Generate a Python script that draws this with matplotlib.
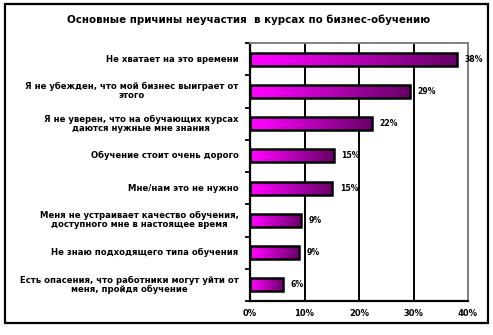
import numpy as np
import matplotlib
matplotlib.use("Agg")
import matplotlib.pyplot as plt
from matplotlib.colors import LinearSegmentedColormap
from matplotlib.patches import Rectangle
from matplotlib.ticker import FixedLocator, NullFormatter

plt.rcParams['font.family'] = ['DejaVu Sans']

title = "Основные причины неучастия  в курсах по бизнес-обучению"
categories = [
    "Не хватает на это времени",
    "Я не убежден, что мой бизнес выиграет от\nэтого",
    "Я не уверен, что на обучающих курсах\nдаются нужные мне знания",
    "Обучение стоит очень дорого",
    "Мне/нам это не нужно",
    "Меня не устраивает качество обучения,\nдоступного мне в настоящее время",
    "Не знаю подходящего типа обучения",
    "Есть опасения, что работники могут уйти от\nменя, пройдя обучение",
]
values = [38.0, 29.3, 22.4, 15.4, 15.1, 9.4, 9.0, 6.1]
xticks = [0, 10, 20, 30, 40]
xticklabels = ["0%", "10%", "20%", "30%", "40%"]

W, H = 493, 335
fig = plt.figure(figsize=(W / 100, H / 100), dpi=100)
fig.patch.set_facecolor("white")

# outer frame
fig.add_artist(Rectangle((5 / W, 1 - 323 / H), 483 / W, 319 / H,
                         transform=fig.transFigure, fill=False,
                         edgecolor="black", linewidth=1.6))

fig.text(249 / W, 1 - 20 / H, title, ha="center", va="center",
         fontsize=7.4, fontweight="bold")

ax = fig.add_axes([250 / W, 1 - 301 / H, 218 / W, 258 / H])
n = len(categories)
ypos = np.arange(n)
bar_h = 0.40

cmap = LinearSegmentedColormap.from_list(
    "mag", [(0.0, "#ff00ff"), (0.12, "#f400f4"), (1.0, "#660066")])
grad = np.linspace(0, 1, 256).reshape(1, -1)

bars = ax.barh(ypos, values, height=bar_h, facecolor="none",
               edgecolor="black", linewidth=1.8, zorder=4)
for rect, v in zip(bars, values):
    y0 = rect.get_y()
    ax.imshow(grad, cmap=cmap, aspect="auto", interpolation="bilinear",
              extent=(0, v, y0 + rect.get_height(), y0), zorder=3)
    ax.text(v + 1.4, rect.get_y() + rect.get_height() / 2,
            f"{v:.0f}%", ha="left", va="center",
            fontsize=5.6, fontweight="bold", zorder=5)

ax.set_xlim(0, 40)
ax.set_ylim(n - 0.5, -0.5)

ax.set_xticks(xticks)
ax.set_xticklabels(xticklabels, fontsize=6, fontweight="bold")
ax.tick_params(axis="x", length=0, pad=6)

ax.yaxis.set_major_locator(FixedLocator(np.arange(n + 1) - 0.5))
ax.yaxis.set_major_formatter(NullFormatter())
ax.tick_params(axis="y", length=3.5, width=1.3, direction="out")
for y, lab in zip(ypos, categories):
    ax.text(-2.1, y, lab, ha="right", va="center", multialignment="center",
            fontsize=6.1, fontweight="bold", linespacing=1.0)

for x in xticks[1:-1]:
    ax.axvline(x, color="black", linewidth=1.4, zorder=1)

ax.spines["left"].set_linewidth(1.6)
ax.spines["bottom"].set_linewidth(1.6)
ax.spines["top"].set_color("#808080")
ax.spines["right"].set_color("#808080")
ax.spines["top"].set_linewidth(1.4)
ax.spines["right"].set_linewidth(1.4)
ax.set_facecolor("white")

fig.savefig("out.png", dpi=100, facecolor="white")
